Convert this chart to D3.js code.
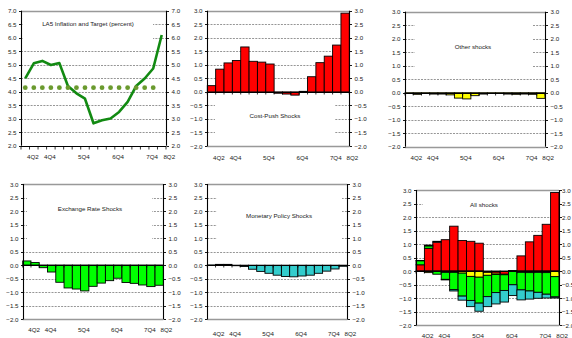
<!DOCTYPE html>
<html><head><meta charset="utf-8">
<script src="https://cdn.jsdelivr.net/npm/d3@7/dist/d3.min.js"></script>
<style>html,body{margin:0;padding:0;background:#fff;}svg{display:block;}</style>
</head><body>
<svg id="c" width="572" height="338"></svg>
<script>
const quarters = ["4Q1","4Q2","4Q3","4Q4","5Q1","5Q2","5Q3","5Q4","6Q1","6Q2","6Q3","6Q4","7Q1","7Q2","7Q3","7Q4","8Q1"];
const inflation = [4.49,5.05,5.14,4.99,5.06,4.21,3.94,3.74,2.83,2.94,3.01,3.25,3.62,4.21,4.49,4.86,6.10];
const target = [4.15,4.15,4.15,4.15,4.15,4.15,4.15,4.15,4.15,4.15,4.15,4.15,4.15,4.15,4.15,4.15,null];
const costPush = [0.23,0.84,1.07,1.16,1.66,1.13,1.10,1.03,-0.05,-0.08,-0.12,0.02,0.56,1.08,1.32,1.73,2.91];
const otherShocks = [-0.02,-0.06,-0.02,-0.05,-0.05,-0.08,-0.20,-0.23,-0.11,-0.05,-0.02,-0.02,-0.05,-0.06,-0.05,-0.06,-0.21];
const exchangeRate = [0.15,0.09,-0.10,-0.26,-0.64,-0.85,-0.89,-0.96,-0.79,-0.67,-0.58,-0.49,-0.65,-0.68,-0.74,-0.80,-0.75];
const monetaryPolicy = [0.01,0.03,0.03,-0.02,-0.05,-0.15,-0.23,-0.30,-0.37,-0.42,-0.43,-0.40,-0.37,-0.30,-0.22,-0.14,-0.04];
const xTickLabels = ["4Q2","4Q4","5Q4","6Q4","7Q4","8Q2"];
const inflTicks = [2.0,2.5,3.0,3.5,4.0,4.5,5.0,5.5,6.0,6.5,7.0];
const shockTicks = [-2.0,-1.5,-1.0,-0.5,0.0,0.5,1.0,1.5,2.0,2.5,3.0];
const titles = ["LA5 Inflation and Target (percent)","Cost-Push Shocks","Other shocks","Exchange Rate Shocks","Monetary Policy Shocks","All shocks"];

const svg = d3.select("#c");
const FONT = "Liberation Sans, Arial, sans-serif";
const FS = 6.2;
const qIndex = q => (+q[0]-4)*4 + (+q[2]-1);

function panel(cfg){
  const g = svg.append("g");
  const n = quarters.length;
  const x = d3.scaleLinear().domain([0,n]).range([cfg.l,cfg.r]);
  const y = d3.scaleLinear().domain(cfg.domain).range([cfg.b,cfg.t]);
  const ticks = cfg.ticks;
  g.selectAll(".grid").data(ticks.filter(v=>v!==cfg.domain[0]&&v!==cfg.domain[1]&&v!==cfg.zero)).enter()
    .append("line").attr("x1",cfg.l).attr("x2",cfg.r)
    .attr("y1",d=>Math.round(y(d))+0.5).attr("y2",d=>Math.round(y(d))+0.5)
    .attr("stroke","#8a8a8a").attr("stroke-width",0.9).attr("stroke-dasharray","2,1.2");
  g.append("rect").attr("x",cfg.box[0]).attr("y",cfg.box[1]).attr("width",cfg.box[2]-cfg.box[0]).attr("height",cfg.box[3]-cfg.box[1]).attr("fill","#fff");
  g.append("text").attr("x",cfg.tx).attr("y",cfg.ty).attr("text-anchor","middle").attr("dominant-baseline","central")
    .attr("font-family",FONT).attr("font-size",FS).attr("fill","#222").text(cfg.title);
  cfg.draw(g,x,y);
  g.append("line").attr("x1",cfg.l).attr("x2",cfg.r).attr("y1",Math.round(y(cfg.domain[1]))+0.5).attr("y2",Math.round(y(cfg.domain[1]))+0.5).attr("stroke","#999").attr("stroke-width",1.4);
  const axisY = cfg.zero!==undefined ? cfg.zero : cfg.domain[0];
  if (cfg.zero!==undefined){
    g.append("line").attr("x1",cfg.l).attr("x2",cfg.r).attr("y1",Math.round(y(cfg.domain[0]))+0.5).attr("y2",Math.round(y(cfg.domain[0]))+0.5).attr("stroke","#999").attr("stroke-width",1.4);
  }
  const ay = Math.round(y(axisY))+0.5;
  g.append("line").attr("x1",cfg.l).attr("x2",cfg.r).attr("y1",ay).attr("y2",ay).attr("stroke","#000").attr("stroke-width",1);
  g.selectAll(".ct").data(d3.range(n+1)).enter().append("line")
    .attr("x1",d=>x(d)).attr("x2",d=>x(d)).attr("y1",ay).attr("y2",ay+(cfg.zero!==undefined?2:3))
    .attr("stroke","#000").attr("stroke-width",0.8);
  g.selectAll(".cl").data(xTickLabels).enter().append("text")
    .attr("x",d=>x(qIndex(d)+0.5)-1).attr("y",cfg.b+cfg.lab)
    .attr("text-anchor","middle").attr("dominant-baseline","central")
    .attr("font-family",FONT).attr("font-size",FS).attr("fill","#222").text(d=>d);
  [cfg.l,cfg.r].forEach((ax,i)=>{
    const xx = Math.round(ax)+0.5;
    g.append("line").attr("x1",xx).attr("x2",xx).attr("y1",y(cfg.domain[0])).attr("y2",y(cfg.domain[1])).attr("stroke","#000").attr("stroke-width",1.1);
    const dir = i===0?-1:1;
    const off = i===0 ? 5 : (cfg.rOff||5);
    g.selectAll(null).data(ticks).enter().append("line")
      .attr("x1",xx).attr("x2",xx+dir*2.5).attr("y1",d=>Math.round(y(d))+0.5).attr("y2",d=>Math.round(y(d))+0.5)
      .attr("stroke","#000").attr("stroke-width",0.9);
    g.selectAll(null).data(ticks).enter().append("text")
      .attr("x",xx+dir*off).attr("y",d=>y(d))
      .attr("text-anchor",i===0?"end":"start").attr("dominant-baseline","central")
      .attr("font-family",FONT).attr("font-size",FS).attr("fill","#222").text(d=>d3.format(".1f")(d));
  });
}

function barDraw(vals,color){
  return (g,x,y)=>{
    g.selectAll(null).data(vals).enter().append("rect")
      .attr("x",(d,i)=>x(i)).attr("width",(d,i)=>x(i+1)-x(i))
      .attr("y",d=>y(Math.max(0,d))).attr("height",d=>Math.abs(y(d)-y(0)))
      .attr("fill",color).attr("stroke","#000").attr("stroke-width",0.9);
  };
}

panel({l:21,r:166,t:10.7,b:145.7,domain:[2,7],ticks:inflTicks,title:titles[0],tx:88,ty:23.5,box:[22.5,13,153,44],lab:10.5,
  draw:(g,x,y)=>{
    const line = d3.line().x((d,i)=>x(i+0.5)).y(d=>y(d));
    g.append("path").attr("d",line(inflation)).attr("fill","none").attr("stroke","#128a12").attr("stroke-width",2.6).attr("stroke-linejoin","round");
    g.selectAll(null).data(target.map((v,i)=>({v,i})).filter(d=>d.v!==null)).enter().append("circle")
      .attr("cx",d=>x(d.i+0.5)).attr("cy",d=>y(d.v)).attr("r",2.4).attr("fill","#6a9a2e");
  }});
panel({l:207.3,r:349.3,t:10.7,b:146,domain:[-2,3],zero:0,ticks:shockTicks,title:titles[1],tx:275,ty:115.7,box:[215,98,335,140],lab:11,draw:barDraw(costPush,"#ff0000")});
panel({l:405,r:545,t:11.7,b:146.7,domain:[-2,3],zero:0,ticks:shockTicks,title:titles[2],tx:473,ty:46,box:[415,20,532,72],lab:10.5,draw:barDraw(otherShocks,"#ffff00")});
panel({l:22.7,r:163.3,t:184,b:319,domain:[-2,3],zero:0,ticks:shockTicks,title:titles[3],tx:90,ty:208.7,box:[27,192,152,243],lab:10,draw:barDraw(exchangeRate,"#00ff00")});
panel({l:207.3,r:347.3,t:184,b:319.3,domain:[-2,3],zero:0,ticks:shockTicks,title:titles[4],tx:279,ty:215,box:[217,192,342,243],lab:14,draw:barDraw(monetaryPolicy,"#33cccc")});
const keys = ["costPush","otherShocks","exchangeRate","monetaryPolicy"];
const colors = {costPush:"#ff0000",otherShocks:"#ffff00",exchangeRate:"#00ff00",monetaryPolicy:"#33cccc"};
const rows = quarters.map((q,i)=>({q,costPush:costPush[i],otherShocks:otherShocks[i],exchangeRate:exchangeRate[i],monetaryPolicy:monetaryPolicy[i]}));
panel({l:416,r:559,t:190,b:325,domain:[-2,3],zero:0,ticks:shockTicks,title:titles[5],tx:484,ty:204,box:[423,196,558,209],lab:10,rOff:2.5,
  draw:(g,x,y)=>{
    const series = d3.stack().keys(keys).offset(d3.stackOffsetDiverging)(rows);
    series.forEach(s=>{
      g.selectAll(null).data(s).enter().append("rect")
        .attr("x",(d,i)=>x(i)).attr("width",(d,i)=>x(i+1)-x(i))
        .attr("y",d=>y(Math.max(d[0],d[1]))).attr("height",d=>Math.abs(y(d[0])-y(d[1])))
        .attr("fill",colors[s.key]).attr("stroke","#000").attr("stroke-width",0.9);
    });
  }});
</script>
</body></html>
